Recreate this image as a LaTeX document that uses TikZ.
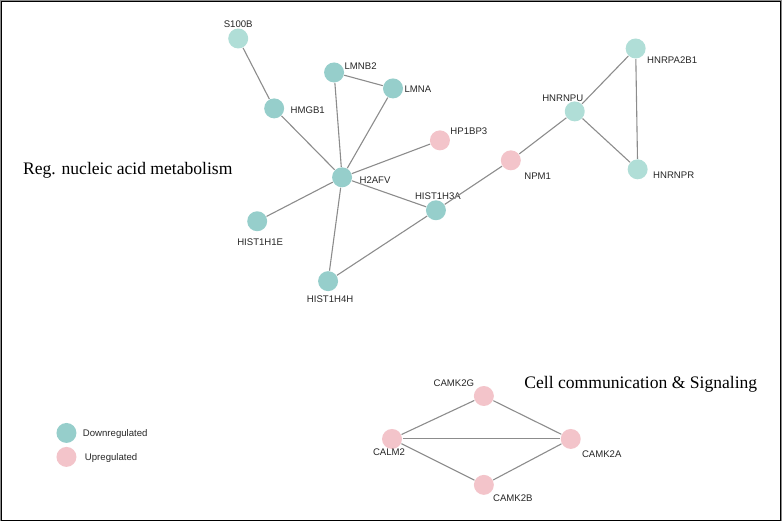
\documentclass[tikz,border=0pt]{standalone}
\usepackage{fontspec}
\setmainfont{Liberation Serif}
\setsansfont{Liberation Sans}
\usepackage{tikz}
\definecolor{dn_teal}{RGB}{150, 206, 203}
\definecolor{dn_light}{RGB}{176, 222, 215}
\definecolor{up_pink}{RGB}{243, 196, 202}
\definecolor{edge_gray}{RGB}{140, 140, 140}
\tikzstyle{dn}=[circle,fill=dn_teal,draw=none,inner sep=0pt,minimum size=20pt]
\tikzstyle{dl}=[circle,fill=dn_light,draw=none,inner sep=0pt,minimum size=20pt]
\tikzstyle{up}=[circle,fill=up_pink,draw=none,inner sep=0pt,minimum size=20pt]
\tikzstyle{lbl}=[font=\sffamily\fontsize{9.6}{10}\selectfont,inner sep=0pt,text=black!85]
\tikzstyle{ttl}=[font=\fontsize{17.6}{19}\selectfont,inner sep=0pt]
\tikzstyle{none}=[]

\begin{document}
\begin{tikzpicture}[x=1pt,y=-1pt,every path/.style={draw=edge_gray,line width=1.1pt}]
            \useasboundingbox (0,0) rectangle (782,521);
            \draw [black,line width=1pt] (0.5,0.5) rectangle (781.5,520.5);
            % network 1
            \node [style=dl] (0) at (238, 38) {};
            \node [style=dn] (1) at (274, 108) {};
            \node [style=dn] (2) at (334, 72) {};
            \node [style=dn] (3) at (393, 88) {};
            \node [style=up] (4) at (440, 140) {};
            \node [style=dn] (5) at (342, 177) {};
            \node [style=dn] (6) at (257, 221) {};
            \node [style=dn] (7) at (436, 210) {};
            \node [style=dn] (8) at (328, 281) {};
            \node [style=up] (9) at (511, 160) {};
            \node [style=dl] (10) at (575, 111) {};
            \node [style=dl] (11) at (636, 48) {};
            \node [style=dl] (12) at (638, 169) {};
            \node [style=lbl] (20) at (238, 24) {S100B};
            \node [style=lbl,anchor=west] (21) at (290, 110) {HMGB1};
            \node [style=lbl,anchor=west] (22) at (344, 66) {LMNB2};
            \node [style=lbl,anchor=west] (23) at (404, 89) {LMNA};
            \node [style=lbl,anchor=west] (24) at (450, 131) {HP1BP3};
            \node [style=lbl,anchor=west] (25) at (359, 180) {H2AFV};
            \node [style=lbl] (26) at (260, 242) {HIST1H1E};
            \node [style=lbl] (27) at (438, 196) {HIST1H3A};
            \node [style=lbl] (28) at (330, 299) {HIST1H4H};
            \node [style=lbl,anchor=west] (29) at (524, 176) {NPM1};
            \node [style=lbl] (30) at (563, 98) {HNRNPU};
            \node [style=lbl,anchor=west] (31) at (647, 60) {HNRPA2B1};
            \node [style=lbl,anchor=west] (32) at (653, 175) {HNRNPR};
            \draw (0) to (1);
            \draw (1) to (5);
            \draw (2) to (5);
            \draw (2) to (3);
            \draw (3) to (5);
            \draw (4) to (5);
            \draw (5) to (6);
            \draw (5) to (8);
            \draw (5) to (7);
            \draw (7) to (8);
            \draw (7) to (9);
            \draw (9) to (10);
            \draw (10) to (11);
            \draw (10) to (12);
            \draw (11) to (12);
            % network 2
            \node [style=up] (40) at (484, 396) {};
            \node [style=up] (41) at (392, 439) {};
            \node [style=up] (42) at (571, 439) {};
            \node [style=up] (43) at (484, 485) {};
            \node [style=lbl] (44) at (454, 383) {CAMK2G};
            \node [style=lbl] (45) at (389, 452) {CALM2};
            \node [style=lbl] (46) at (602, 454) {CAMK2A};
            \node [style=lbl] (47) at (513, 498) {CAMK2B};
            \draw (40) to (41);
            \draw (40) to (42);
            \draw (41) to (42);
            \draw (41) to (43);
            \draw (43) to (42);
            % titles
            \node [style=ttl,anchor=west] (50) at (22, 170) {Reg. nucleic acid metabolism};
            \node [style=ttl,anchor=west] (51) at (524, 384) {Cell communication \& Signaling};
            % legend
            \node [style=dn] (60) at (66, 433) {};
            \node [style=up] (61) at (66, 457) {};
            \node [style=lbl,anchor=west] (62) at (82, 434) {Downregulated};
            \node [style=lbl,anchor=west] (63) at (84, 458) {Upregulated};
    \end{tikzpicture}
\end{document}
